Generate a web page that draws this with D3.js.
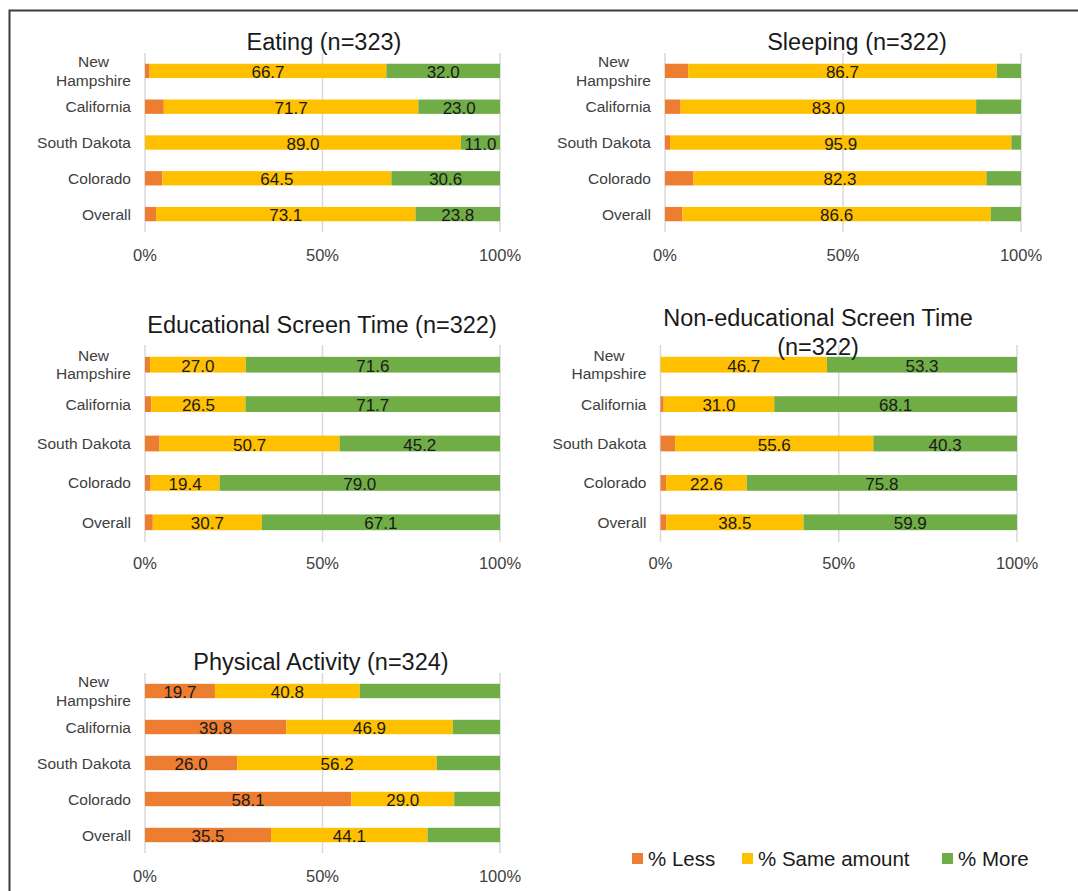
<!DOCTYPE html>
<html>
<head>
<meta charset="utf-8">
<script src="https://cdn.jsdelivr.net/npm/d3@7"></script>
<style>
  html, body { margin: 0; padding: 0; background: #fff; }
  svg { display: block; font-family: "Liberation Sans", Arial, sans-serif; }
</style>
</head>
<body>
<svg id="chart" width="1078" height="891"></svg>
<script>
// ---------------- DATA ----------------
const categories = ["New Hampshire", "California", "South Dakota", "Colorado", "Overall"];
const seriesNames = ["% Less", "% Same amount", "% More"];
const tickValues = [0, 50, 100];
const tickLabels = ["0%", "50%", "100%"];

const eatingLess = [1.3, 5.3, 0.0, 4.9, 3.1];
const eatingSame = [66.7, 71.7, 89.0, 64.5, 73.1];
const eatingMore = [32.0, 23.0, 11.0, 30.6, 23.8];

const sleepingLess = [6.5, 4.4, 1.4, 8.0, 4.9];
const sleepingSame = [86.7, 83.0, 95.9, 82.3, 86.6];
const sleepingMore = [6.8, 12.6, 2.7, 9.7, 8.5];

const eduLess = [1.4, 1.8, 4.1, 1.6, 2.2];
const eduSame = [27.0, 26.5, 50.7, 19.4, 30.7];
const eduMore = [71.6, 71.7, 45.2, 79.0, 67.1];

const nonEduLess = [0.0, 0.9, 4.1, 1.6, 1.6];
const nonEduSame = [46.7, 31.0, 55.6, 22.6, 38.5];
const nonEduMore = [53.3, 68.1, 40.3, 75.8, 59.9];

const physLess = [19.7, 39.8, 26.0, 58.1, 35.5];
const physSame = [40.8, 46.9, 56.2, 29.0, 44.1];
const physMore = [39.5, 13.3, 17.8, 12.9, 20.4];

const titles = [
  ["Eating (n=323)"],
  ["Sleeping (n=322)"],
  ["Educational Screen Time (n=322)"],
  ["Non-educational Screen Time", "(n=322)"],
  ["Physical Activity (n=324)"]
];

// ---------------- STYLE / LAYOUT ----------------
const colors = ["#ED7D31", "#FFC000", "#70AD47"];
const panels = [
  { title: titles[0], vals: [eatingLess, eatingSame, eatingMore], labelled: [false, true, true],
    x0: 145, x1: 500, y0: 53, y1: 232, titleX: 324, titleY: 42, tickY: 255 },
  { title: titles[1], vals: [sleepingLess, sleepingSame, sleepingMore], labelled: [false, true, false],
    x0: 665, x1: 1021, y0: 53, y1: 232, titleX: 857, titleY: 42, tickY: 255 },
  { title: titles[2], vals: [eduLess, eduSame, eduMore], labelled: [false, true, true],
    x0: 145, x1: 500, y0: 345, y1: 542, titleX: 322, titleY: 325, tickY: 563 },
  { title: titles[3], vals: [nonEduLess, nonEduSame, nonEduMore], labelled: [false, true, true],
    x0: 660.5, x1: 1017, y0: 345, y1: 542, titleX: 818, titleY: 318, titleLine: 29, tickY: 563 },
  { title: titles[4], vals: [physLess, physSame, physMore], labelled: [true, true, false],
    x0: 145, x1: 500, y0: 673, y1: 853, titleX: 321, titleY: 662, tickY: 876 }
];

const svg = d3.select("#chart");

// outer frame (cropped on right/bottom)
svg.append("path")
  .attr("d", "M9.5,1000 L9.5,10.5 L1100,10.5")
  .attr("fill", "none").attr("stroke", "#3a3a3a").attr("stroke-width", 2);

const titleSize = 23.5, catSize = 15.5, valSize = 17, tickSize = 16.5;

panels.forEach(p => {
  const g = svg.append("g");
  const x = d3.scaleLinear().domain([0, 100]).range([p.x0, p.x1]);
  const y = d3.scaleBand().domain(categories).range([p.y0, p.y1]).paddingInner(0.6).paddingOuter(0.3);

  // gridlines
  g.selectAll("line.grid").data(tickValues).join("line")
    .attr("x1", d => x(d)).attr("x2", d => x(d))
    .attr("y1", p.y0).attr("y2", p.y1)
    .attr("stroke", "#D9D9D9").attr("stroke-width", 1.5);

  // stacked data
  const rows = categories.map((c, i) => {
    const o = { cat: c };
    seriesNames.forEach((s, k) => o[s] = p.vals[k][i]);
    return o;
  });
  const stack = d3.stack().keys(seriesNames)(rows);

  stack.forEach((layer, k) => {
    g.selectAll(null).data(layer).join("rect")
      .attr("x", d => x(d[0]))
      .attr("width", d => Math.max(0, x(d[1]) - x(d[0])))
      .attr("y", d => y(d.data.cat))
      .attr("height", y.bandwidth())
      .attr("fill", colors[k]);
  });

  stack.forEach((layer, k) => {
    if (!p.labelled[k]) return;
    g.selectAll(null).data(layer).join("text")
      .attr("x", d => (x(d[0]) + x(d[1])) / 2)
      .attr("y", d => y(d.data.cat) + y.bandwidth() / 2 + valSize * 0.36 + 1)
      .attr("text-anchor", "middle")
      .attr("font-size", valSize)
      .attr("fill", "#1a1a1a")
      .text(d => (d[1] - d[0]).toFixed(1));
  });

  // category labels
  const labelRight = p.x0 - 14;
  categories.forEach(c => {
    const cy = y(c) + y.bandwidth() / 2;
    const words = c === "New Hampshire" ? ["New", "Hampshire"] : [c];
    if (words.length === 1) {
      g.append("text").attr("x", labelRight).attr("y", cy + catSize * 0.36)
        .attr("text-anchor", "end").attr("font-size", catSize).attr("fill", "#404040").text(c);
    } else {
      const t2 = g.append("text").attr("x", labelRight).attr("y", cy + 9.2 + catSize * 0.36)
        .attr("text-anchor", "end").attr("font-size", catSize).attr("fill", "#404040").text(words[1]);
      const w = t2.node().getComputedTextLength();
      g.append("text").attr("x", labelRight - w / 2).attr("y", cy - 9.2 + catSize * 0.36)
        .attr("text-anchor", "middle").attr("font-size", catSize).attr("fill", "#404040").text(words[0]);
    }
  });

  // x axis tick labels
  g.selectAll("text.tick").data(tickValues).join("text")
    .attr("x", d => x(d)).attr("y", p.tickY + tickSize * 0.36)
    .attr("text-anchor", "middle").attr("font-size", tickSize).attr("fill", "#404040")
    .text((d, i) => tickLabels[i]);

  // title
  p.title.forEach((line, i) => {
    g.append("text").attr("x", p.titleX)
      .attr("y", p.titleY + i * (p.titleLine || 0) + titleSize * 0.36)
      .attr("text-anchor", "middle").attr("font-size", titleSize).attr("fill", "#1a1a1a")
      .text(line);
  });
});

// legend
const legendX = [632, 742, 942];
const lg = svg.append("g");
seriesNames.forEach((s, k) => {
  lg.append("rect").attr("x", legendX[k]).attr("y", 853).attr("width", 11).attr("height", 11).attr("fill", colors[k]);
  lg.append("text").attr("x", legendX[k] + 16).attr("y", 859 + 20.5 * 0.36)
    .attr("font-size", 20.5).attr("fill", "#1a1a1a").text(s);
});
</script>
</body>
</html>
